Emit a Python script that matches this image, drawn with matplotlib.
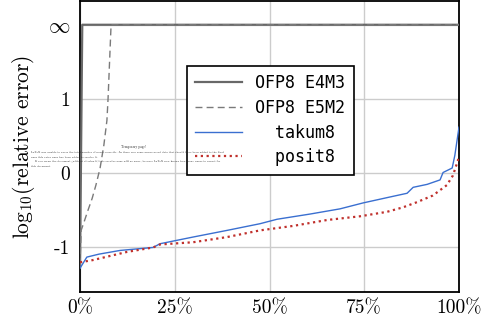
import matplotlib
matplotlib.use("Agg")
import matplotlib.pyplot as plt
from matplotlib.ticker import FixedLocator

plt.rcParams['mathtext.fontset'] = 'cm'
plt.rcParams['font.family'] = ['cmr10', 'DejaVu Serif']
plt.rcParams['axes.unicode_minus'] = False

# Data (x in percent, y = log10 relative error, infinity drawn at 2)
e4m3_x = [0, 0.6, 100]
e4m3_y = [-1.27, 2.0, 2.0]

e5m2_x = [0, 0.3, 1.05, 2.1, 3.2, 4.2, 5.3, 6.3, 7.1, 7.4, 8.2, 100]
e5m2_y = [-1.24, -0.77, -0.66, -0.50, -0.34, -0.16, 0.07, 0.38, 0.71, 1.0, 2.0, 2.0]

takum_x = [0, 1.8, 5, 10.6, 19.3, 21.1, 29.8, 38.8, 47.5, 52, 60.7, 68.6, 74.7,
           81.8, 86.3, 87.9, 91.6, 95, 95.8, 98.2, 98.9, 100]
takum_y = [-1.28, -1.13, -1.09, -1.04, -1.0, -0.95, -0.86, -0.77, -0.68, -0.62,
           -0.55, -0.48, -0.40, -0.32, -0.27, -0.19, -0.15, -0.09, 0.01, 0.07, 0.24, 0.62]

posit_x = [0, 3.4, 12.4, 19.3, 21.1, 29.8, 38.8, 47.5, 56.2, 65.2, 73.9, 81, 85.2,
           88.9, 93.1, 96.8, 98.4, 99.7, 100]
posit_y = [-1.20, -1.17, -1.06, -1.0, -0.96, -0.93, -0.86, -0.77, -0.71, -0.63,
           -0.58, -0.52, -0.46, -0.39, -0.30, -0.16, -0.03, 0.17, 0.24]

x_ticks = [0, 25, 50, 75, 100]
x_ticklabels = ['0%', '25%', '50%', '75%', '100%']
y_ticks = [-1, 0, 1, 2]
y_ticklabels = ['-1', '0', '1', r'$\infty$']

fig = plt.figure(figsize=(4.93, 3.25), dpi=100)
ax = fig.add_axes([80/493, 33/325, 379/493, 291/325])

ax.plot(e4m3_x, e4m3_y, color='#686868', lw=1.6, label='OFP8 E4M3', zorder=3)
ax.plot(e5m2_x, e5m2_y, color='#7a7a7a', lw=1.0, dashes=(5, 3), label='OFP8 E5M2', zorder=3)
ax.plot(takum_x, takum_y, color='#3a6fd0', lw=1.0, label='takum8', zorder=4)
ax.plot(posit_x, posit_y, color='#c0302c', lw=1.6, ls=(0, (1, 1.6)), label='posit8', zorder=4)

ax.set_xlim(0, 100)
ax.set_ylim(-1.6, 2.32)
ax.xaxis.set_major_locator(FixedLocator(x_ticks))
ax.set_xticklabels(x_ticklabels, fontsize=14)
ax.yaxis.set_major_locator(FixedLocator(y_ticks))
ax.set_yticklabels(y_ticklabels, fontsize=14)
ax.get_yticklabels()[-1].set_fontsize(15.5)
ax.tick_params(axis='x', length=0, pad=5)
ax.tick_params(axis='y', length=0, pad=7)
ax.grid(True, color='#cccccc', lw=1.0, zorder=0)
for s in ax.spines.values():
    s.set_linewidth(1.3)
    s.set_color('black')

ax.set_ylabel(r'log$_{10}$(relative error)', fontsize=15.5, labelpad=8)

# LaTeX temporary page artifact
fig.text(133/493, 1 - 147/325, 'Temporary page!', fontsize=2.4, ha='center',
         va='center', color='#222222', weight='bold')
art = [("LaTeX was unable to guess the total number of pages correctly. As there was some unprocessed data that should have been added to the final", 31),
       ("page this extra page has been added to receive it.", 31),
       ("If you rerun the document (without altering it) this surplus page will go away, because LaTeX now knows how many pages to expect for", 35),
       ("this document.", 31)]
for i, (line, x0) in enumerate(art):
    fig.text(x0/493, 1 - (152 + i*4.7)/325, line, fontsize=2.2, ha='left',
             va='center', color='#222222')

leg = ax.legend(loc='upper left', bbox_to_anchor=(0.282, 0.777), borderaxespad=0,
                prop={'family': 'DejaVu Sans Mono', 'size': 12},
                handlelength=2.8, fancybox=False, framealpha=1,
                edgecolor='black', borderpad=0.5, labelspacing=0.4)
leg.get_frame().set_linewidth(1.2)
leg.set_zorder(5)
for t in leg.get_texts()[2:]:
    t.set_text('  ' + t.get_text())

fig.savefig('out.png', dpi=100)
